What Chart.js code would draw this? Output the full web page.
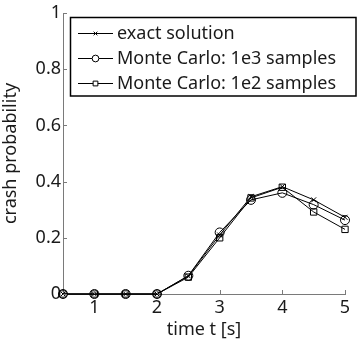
<!DOCTYPE html>
<html>
<head>
<meta charset="utf-8">
<script src="https://cdn.jsdelivr.net/npm/chart.js@4.4.1/dist/chart.umd.min.js"></script>
<style>
  html, body { margin: 0; padding: 0; background: #fff; }
  #wrap { width: 357px; height: 341px; }
</style>
</head>
<body>
<div id="wrap"><canvas id="chart" width="357" height="341"></canvas></div>
<script>
const times = [0.5, 1, 1.5, 2, 2.5, 3, 3.5, 4, 4.5, 5];
const exactSolution = [0, 0, 0, 0, 0.064, 0.21, 0.346, 0.382, 0.335, 0.273];
const monteCarlo1e3 = [0, 0, 0, 0, 0.065, 0.219, 0.335, 0.36, 0.318, 0.263];
const monteCarlo1e2 = [0, 0, 0, 0, 0.06, 0.2, 0.342, 0.38, 0.292, 0.23];
const xTicks = [1, 2, 3, 4, 5];
const yTicks = [0, 0.2, 0.4, 0.6, 0.8, 1];

const FONT = '"Noto Sans", sans-serif';
const AXIS_GREY = '#7a7a7a';
const TEXT = '#1a1a1a';

function toPoints(values) {
    return times.map((t, i) => ({ x: t, y: values[i] }));
}

function makeDataset(label, values, style, radius) {
    return {
        label,
        data: toPoints(values),
        borderColor: '#000',
        borderWidth: 1,
        pointStyle: style,
        pointRadius: radius,
        pointBorderColor: '#000',
        pointBorderWidth: 1,
        pointBackgroundColor: 'rgba(0,0,0,0)',
        tension: 0,
        clip: false
    };
}

// inward tick marks, matlab style
const tickMarks = {
    id: 'tickMarks',
    afterDraw(chart) {
        const ctx = chart.ctx;
        const xs = chart.scales.x, ys = chart.scales.y;
        const area = chart.chartArea;
        ctx.save();
        ctx.strokeStyle = AXIS_GREY;
        ctx.lineWidth = 1;
        ctx.beginPath();
        xTicks.forEach(v => {
            const px = Math.round(xs.getPixelForValue(v)) + 0.5;
            ctx.moveTo(px, area.bottom);
            ctx.lineTo(px, area.bottom - 4);
        });
        yTicks.forEach(v => {
            const py = Math.round(ys.getPixelForValue(v)) + 0.5;
            ctx.moveTo(area.left, py);
            ctx.lineTo(area.left + 4, py);
        });
        ctx.stroke();
        ctx.restore();
    }
};

// legend box inside the plot, top right
const boxLegend = {
    id: 'boxLegend',
    afterDraw(chart) {
        const ctx = chart.ctx;
        const left = 70.5, top = 17.5, right = 356, bottom = 96;
        ctx.save();
        ctx.fillStyle = '#fff';
        ctx.fillRect(left, top, right - left, bottom - top);
        ctx.strokeStyle = '#000';
        ctx.lineWidth = 1.5;
        ctx.strokeRect(left, top, right - left, bottom - top);
        ctx.font = '18px ' + FONT;
        ctx.textBaseline = 'middle';
        chart.data.datasets.forEach((ds, i) => {
            const y = 33 + i * 25;
            ctx.strokeStyle = '#000';
            ctx.lineWidth = 1;
            ctx.beginPath();
            ctx.moveTo(78, y + 0.5);
            ctx.lineTo(113, y + 0.5);
            ctx.stroke();
            ctx.fillStyle = '#fff';
            Chart.helpers.drawPoint(ctx, {
                pointStyle: ds.pointStyle,
                radius: ds.pointRadius * 0.75,
                borderWidth: 1
            }, 95.5, y + 0.5);
            ctx.fillStyle = TEXT;
            ctx.fillText(ds.label, 117, y + 1);
        });
        ctx.restore();
    }
};

new Chart(document.getElementById('chart'), {
    type: 'line',
    data: {
        datasets: [
            makeDataset('exact solution', exactSolution, 'crossRot', 3.5),
            makeDataset('Monte Carlo: 1e3 samples', monteCarlo1e3, 'circle', 4.5),
            makeDataset('Monte Carlo: 1e2 samples', monteCarlo1e2, 'rect', 4.5)
        ]
    },
    options: {
        responsive: false,
        animation: false,
        layout: { padding: { left: 0, right: 12, top: 13, bottom: 0 } },
        plugins: {
            legend: { display: false },
            tooltip: { enabled: false }
        },
        scales: {
            x: {
                type: 'linear',
                min: 0.5,
                max: 5,
                afterBuildTicks: axis => { axis.ticks = xTicks.map(v => ({ value: v })); },
                afterFit: axis => { axis.height = 47; },
                border: { color: AXIS_GREY, width: 1 },
                grid: { drawOnChartArea: false, drawTicks: false },
                ticks: {
                    color: TEXT,
                    font: { family: FONT, size: 18 },
                    padding: 3,
                    maxRotation: 0,
                    callback: v => String(v)
                },
                title: {
                    display: true,
                    text: 'time t [s]',
                    color: TEXT,
                    font: { family: FONT, size: 18 },
                    padding: { top: -5, bottom: 0 }
                }
            },
            y: {
                min: 0,
                max: 1,
                afterBuildTicks: axis => { axis.ticks = yTicks.map(v => ({ value: v })); },
                afterFit: axis => { axis.width = 63; },
                border: { color: AXIS_GREY, width: 1 },
                grid: { drawOnChartArea: false, drawTicks: false },
                ticks: {
                    color: TEXT,
                    font: { family: FONT, size: 18 },
                    padding: 2,
                    callback: v => String(v)
                },
                title: {
                    display: true,
                    text: 'crash probability',
                    color: TEXT,
                    font: { family: FONT, size: 18 },
                    padding: { top: 0, bottom: 0 }
                }
            }
        }
    },
    plugins: [tickMarks, boxLegend]
});
</script>
</body>
</html>
